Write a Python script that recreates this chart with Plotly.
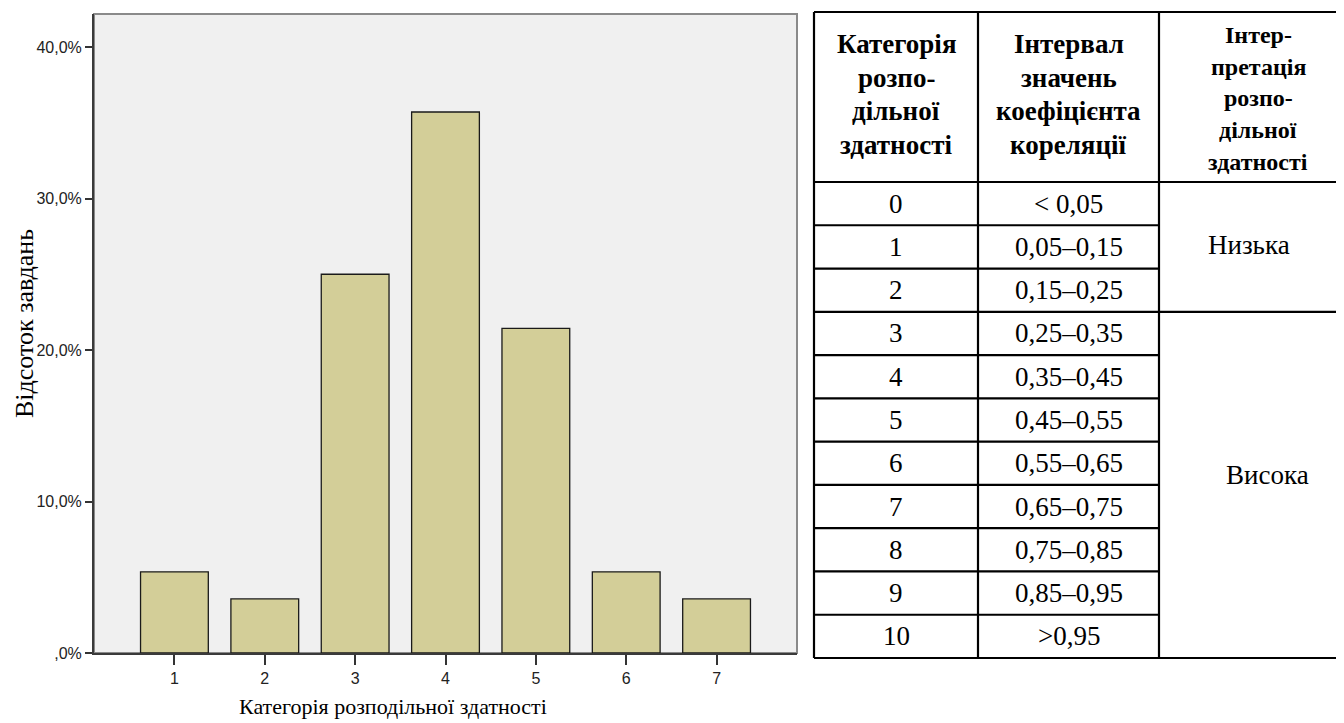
import plotly.graph_objects as go

# ---------------- data: histogram ----------------
categories = [1, 2, 3, 4, 5, 6, 7]
percent = [5.36, 3.57, 25.0, 35.71, 21.43, 5.36, 3.57]
y_tick_vals = [0, 10, 20, 30, 40]
y_tick_text = [",0%", "10,0%", "20,0%", "30,0%", "40,0%"]
x_title = "Категорія розподільної здатності"
y_title = "Відсоток завдань"

# ---------------- data: table ----------------
header_col1 = ["Категорія", "розпо-", "дільної", "здатності"]
header_col2 = ["Інтервал", "значень", "коефіцієнта", "кореляції"]
header_col3 = ["Інтер-", "претація", "розпо-", "дільної", "здатності"]
table_category = ["0", "1", "2", "3", "4", "5", "6", "7", "8", "9", "10"]
table_interval = ["< 0,05", "0,05–0,15", "0,15–0,25", "0,25–0,35", "0,35–0,45",
                  "0,45–0,55", "0,55–0,65", "0,65–0,75", "0,75–0,85",
                  "0,85–0,95", ">0,95"]
interp_labels = ["Низька", "Висока"]
interp_first_row = [0, 3]
interp_last_row = [2, 10]

# ---------------- layout constants (page pixels; body margin of 8px) ----------------
OFF = 8
W, H = 1344 - OFF, 723 - OFF
def fx(px):
    return (px - OFF) / W
def fy(py):
    return 1 - (py - OFF) / H

BAR_FILL = "#d3ce98"
PLOT_BG = "#f0f0f0"
SERIF = "Liberation Serif, Times New Roman, serif"
NARROW = "Liberation Sans Narrow, Arial Narrow, Liberation Sans, Arial, sans-serif"

fig = go.Figure()

fig.add_trace(go.Bar(
    x=categories, y=percent, width=0.75,
    marker=dict(color=BAR_FILL, line=dict(color="#1a1a1a", width=1.3)),
    xaxis="x", yaxis="y", showlegend=False, hoverinfo="x+y",
))

# ---------------- table geometry ----------------
TBL_LEFT, TBL_RIGHT = 814, 1344
TBL_TOP, HDR_BOTTOM, TBL_BOTTOM = 12, 182, 658
n_rows = len(table_category)
row_px = (TBL_BOTTOM - HDR_BOTTOM) / n_rows
tbl_w = TBL_RIGHT - TBL_LEFT
def ux(px):
    return (px - TBL_LEFT) / tbl_w
def vy(py):
    return (py - HDR_BOTTOM) / row_px

hdr_h = -vy(TBL_TOP)
col_edges = [0.0, ux(978), ux(1159), 1.0]

shapes = []
shapes.append(dict(type="rect", xref="x domain", yref="y domain", x0=0, x1=1, y0=0, y1=1,
                   fillcolor=PLOT_BG, line=dict(color="#8a8a8a", width=2), layer="below"))

line_style = dict(color="black", width=2.2)
def tline(x0, y0, x1, y1):
    shapes.append(dict(type="line", xref="x2", yref="y2", x0=x0, y0=y0, x1=x1, y1=y1, line=line_style))

tline(0, -hdr_h, 1.02, -hdr_h)
tline(0, n_rows, 1.02, n_rows)
tline(0, -hdr_h, 0, n_rows)
tline(col_edges[1], -hdr_h, col_edges[1], n_rows)
tline(col_edges[2], -hdr_h, col_edges[2], n_rows)
tline(0, 0, 1.02, 0)
for r in range(1, n_rows):
    if r in interp_first_row:
        tline(0, r, 1.02, r)
    else:
        tline(0, r, col_edges[2], r)

annotations = []

def header_block(lines, xc, yc_px, step_px, size):
    n = len(lines)
    for k, line in enumerate(lines):
        ypx = yc_px + (k - (n - 1) / 2) * step_px
        annotations.append(dict(xref="x2", yref="y2", x=xc, y=vy(ypx), text=f"<b>{line}</b>",
                                showarrow=False, font=dict(family=SERIF, size=size, color="black"),
                                xanchor="center", yanchor="middle"))

header_block(header_col1, (col_edges[0] + col_edges[1]) / 2, 94.5, 33.7, 27)
header_block(header_col2, (col_edges[1] + col_edges[2]) / 2, 94.5, 33.7, 27)
header_block(header_col3, ux(1258), 98.5, 31.7, 24)

for i in range(n_rows):
    annotations.append(dict(xref="x2", yref="y2", x=(col_edges[0] + col_edges[1]) / 2, y=i + 0.5,
                            text=table_category[i], showarrow=False,
                            font=dict(family=SERIF, size=27, color="black")))
    annotations.append(dict(xref="x2", yref="y2", x=(col_edges[1] + col_edges[2]) / 2, y=i + 0.5,
                            text=table_interval[i], showarrow=False,
                            font=dict(family=SERIF, size=27, color="black")))

interp_x_px = [1249, 1267]
interp_y_px = [245, 475]
for lab, xp, yp in zip(interp_labels, interp_x_px, interp_y_px):
    annotations.append(dict(xref="x2", yref="y2", x=ux(xp), y=vy(yp), text=lab, showarrow=False,
                            font=dict(family=SERIF, size=27, color="black")))

# axis titles
annotations.append(dict(xref="paper", yref="paper", x=fx(393), y=fy(706), text=x_title, showarrow=False,
                        font=dict(family=SERIF, size=22, color="black"), xanchor="center", yanchor="middle"))
annotations.append(dict(xref="paper", yref="paper", x=fx(24), y=fy(324), text=y_title, showarrow=False,
                        textangle=-90, font=dict(family=SERIF, size=26, color="black"),
                        xanchor="center", yanchor="middle", borderpad=0))

fig.update_layout(
    width=W, height=H, margin=dict(l=0, r=0, t=0, b=0),
    paper_bgcolor="white", plot_bgcolor="white",
    xaxis=dict(domain=[fx(94), fx(797)], range=[0.11, 7.89], tickvals=categories,
               ticktext=[str(c) for c in categories], ticks="outside", ticklen=10, tickwidth=2,
               tickcolor="#333333", showline=True, linecolor="#3a3a3a", linewidth=2,
               showgrid=False, zeroline=False, fixedrange=True,
               tickfont=dict(family=NARROW, size=16, color="#222222"), automargin=False),
    yaxis=dict(domain=[fy(653), fy(14)], range=[0, 42.18], tickvals=y_tick_vals, ticktext=y_tick_text,
               ticks="outside", ticklen=7, tickwidth=2, tickcolor="#333333",
               showline=True, linecolor="#3a3a3a", linewidth=2, showgrid=False, zeroline=False,
               fixedrange=True, tickfont=dict(family=NARROW, size=16, color="#222222"), automargin=False),
    xaxis2=dict(domain=[fx(805), 1], range=[ux(805), 1], visible=False, fixedrange=True),
    yaxis2=dict(domain=[fy(665), fy(9)], range=[vy(665), vy(9)], visible=False, fixedrange=True),
    shapes=shapes, annotations=annotations,
)

fig.write_html("out.html")
